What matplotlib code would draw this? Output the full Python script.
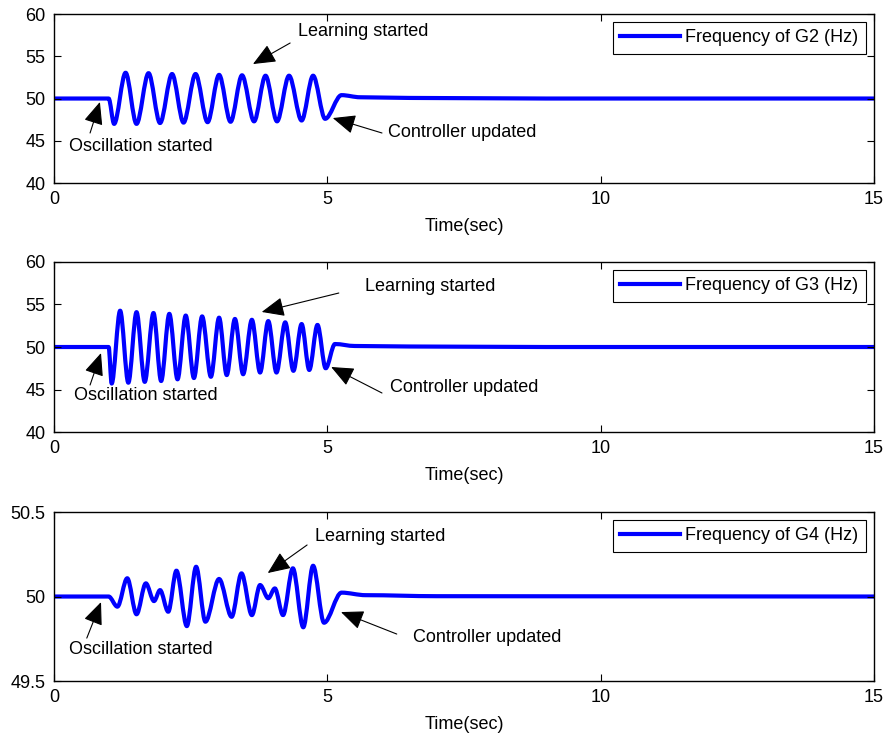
import matplotlib
matplotlib.use('Agg')
import matplotlib.pyplot as plt
from matplotlib.path import Path
from matplotlib.patches import PathPatch
from matplotlib.lines import Line2D

plt.rcParams['font.family'] = ['Liberation Sans', 'DejaVu Sans']
plt.rcParams['font.size'] = 13

# extremes (time in s, frequency in Hz)
t_g2 = [0, 1.00, 1.10, 1.31, 1.51, 1.73, 1.94, 2.16, 2.37, 2.59, 2.81, 3.02, 3.23,
        3.44, 3.66, 3.87, 4.08, 4.30, 4.53, 4.74, 4.96, 5.26, 5.60, 6.5, 9.0, 15]
f_g2 = [50, 50, 47.0, 53.05, 47.0, 53.0, 47.1, 52.9, 47.15, 52.9, 47.2, 52.8, 47.25,
        52.75, 47.3, 52.7, 47.3, 52.7, 47.4, 52.7, 47.6, 50.4, 50.15, 50.07, 50.0, 50.0]

t_g3 = [0, 1.00, 1.055, 1.21, 1.36, 1.51, 1.66, 1.82, 1.96, 2.11, 2.26, 2.41, 2.56,
        2.71, 2.87, 3.02, 3.16, 3.31, 3.46, 3.62, 3.77, 3.92, 4.07, 4.23, 4.38, 4.53,
        4.67, 4.82, 4.97, 5.14, 5.50, 6.5, 9.0, 15]
f_g3 = [50, 50, 45.7, 54.27, 45.8, 54.1, 45.9, 54.0, 46.0, 53.9, 46.2, 53.7, 46.35,
        53.6, 46.5, 53.45, 46.7, 53.3, 46.8, 53.2, 47.0, 53.05, 47.0, 52.9, 47.2, 52.7,
        47.3, 52.6, 47.5, 50.35, 50.12, 50.06, 50.0, 50.0]

t_g4 = [0, 1.00, 1.16, 1.34, 1.51, 1.68, 1.83, 1.94, 2.09, 2.24, 2.43, 2.60, 2.77,
        3.02, 3.25, 3.43, 3.62, 3.77, 3.92, 4.04, 4.19, 4.37, 4.56, 4.74, 4.94, 5.26,
        5.70, 7.0, 15]
f_g4 = [50, 50, 49.94, 50.108, 49.895, 50.078, 49.973, 50.038, 49.91, 50.153, 49.825,
        50.176, 49.851, 50.104, 49.88, 50.137, 49.89, 50.068, 49.99, 50.048, 49.89,
        50.167, 49.818, 50.182, 49.845, 50.023, 50.008, 50.002, 50.0]

labels = ['Frequency of G2 (Hz)', 'Frequency of G3 (Hz)', 'Frequency of G4 (Hz)']
xticks = [0, 5, 10, 15]
yticks = [[40, 45, 50, 55, 60], [40, 45, 50, 55, 60], [49.5, 50, 50.5]]
yticklabels = [['40', '45', '50', '55', '60'], ['40', '45', '50', '55', '60'],
               ['49.5', '50', '50.5']]

# annotation placement: (text, text xy, arrow tail, arrow head, ha)
notes = [
    [('Learning started', (5.65, 57.99), (4.32, 56.57), (3.64, 54.08), 'center'),
     ('Oscillation started', (1.59, 44.38), (0.66, 45.92), (0.84, 49.59), 'center'),
     ('Controller updated', (6.11, 45.92), (6.00, 45.92), (5.10, 47.69), 'left')],
    [('Learning started', (6.88, 57.06), (5.21, 56.35), (3.80, 54.12), 'center'),
     ('Oscillation started', (1.68, 44.35), (0.66, 45.53), (0.86, 49.29), 'center'),
     ('Controller updated', (6.15, 45.18), (6.00, 44.59), (5.07, 47.65), 'left')],
    [('Learning started', (5.96, 50.358), (4.63, 50.305), (3.91, 50.139), 'center'),
     ('Oscillation started', (1.59, 49.689), (0.60, 49.754), (0.86, 49.967), 'center'),
     ('Controller updated', (6.57, 49.76), (6.27, 49.778), (5.25, 49.908), 'left')],
]


def smooth_path(t, f):
    # cubic segments with flat tangents at every read point (peaks/troughs)
    verts = [(t[0], f[0])]
    codes = [Path.MOVETO]
    for i in range(1, len(t)):
        dt = t[i] - t[i-1]
        verts += [(t[i-1] + dt/3, f[i-1]), (t[i] - dt/3, f[i]), (t[i], f[i])]
        codes += [Path.CURVE4] * 3
    return Path(verts, codes)


fig = plt.figure(figsize=(8.88, 7.38), dpi=100)
boxes = [[0.0608, 0.752, 0.9234, 0.229],
         [0.0608, 0.4146, 0.9234, 0.2304],
         [0.0608, 0.0772, 0.9234, 0.229]]
series = [(t_g2, f_g2), (t_g3, f_g3), (t_g4, f_g4)]

for k in range(3):
    ax = fig.add_axes(boxes[k])
    t, f = series[k]
    ax.add_patch(PathPatch(smooth_path(t, f), facecolor='none', edgecolor='b',
                           lw=3.0, capstyle='round', joinstyle='round'))
    ax.set_xlim(0, 15)
    ax.set_ylim(yticks[k][0], yticks[k][-1])
    ax.set_xticks(xticks)
    ax.set_xticklabels([str(v) for v in xticks])
    ax.set_yticks(yticks[k])
    ax.set_yticklabels(yticklabels[k])
    ax.tick_params(direction='in', top=True, right=True, length=5, width=0.8,
                   labelsize=13, pad=6)
    for s in ax.spines.values():
        s.set_linewidth(1.0)
    ax.set_xlabel('Time(sec)', fontsize=13, labelpad=7)
    h = Line2D([], [], color='b', lw=3)
    leg = ax.legend([h], [labels[k]], loc='upper right', fontsize=13, fancybox=False,
                    edgecolor='k', framealpha=1, borderpad=0.4, borderaxespad=0.45,
                    handlelength=3.3, handletextpad=0.3)
    leg.get_frame().set_linewidth(0.8)
    for txt, pos, tail, head, ha in notes[k]:
        ax.text(pos[0], pos[1], txt, ha=ha, va='center', fontsize=13)
        ax.annotate('', xy=head, xytext=tail,
                    arrowprops=dict(arrowstyle='-|>,head_length=0.7,head_width=0.3',
                                    color='k', lw=0.8, mutation_scale=20,
                                    shrinkA=0, shrinkB=0))

fig.savefig('out.png', dpi=100)
